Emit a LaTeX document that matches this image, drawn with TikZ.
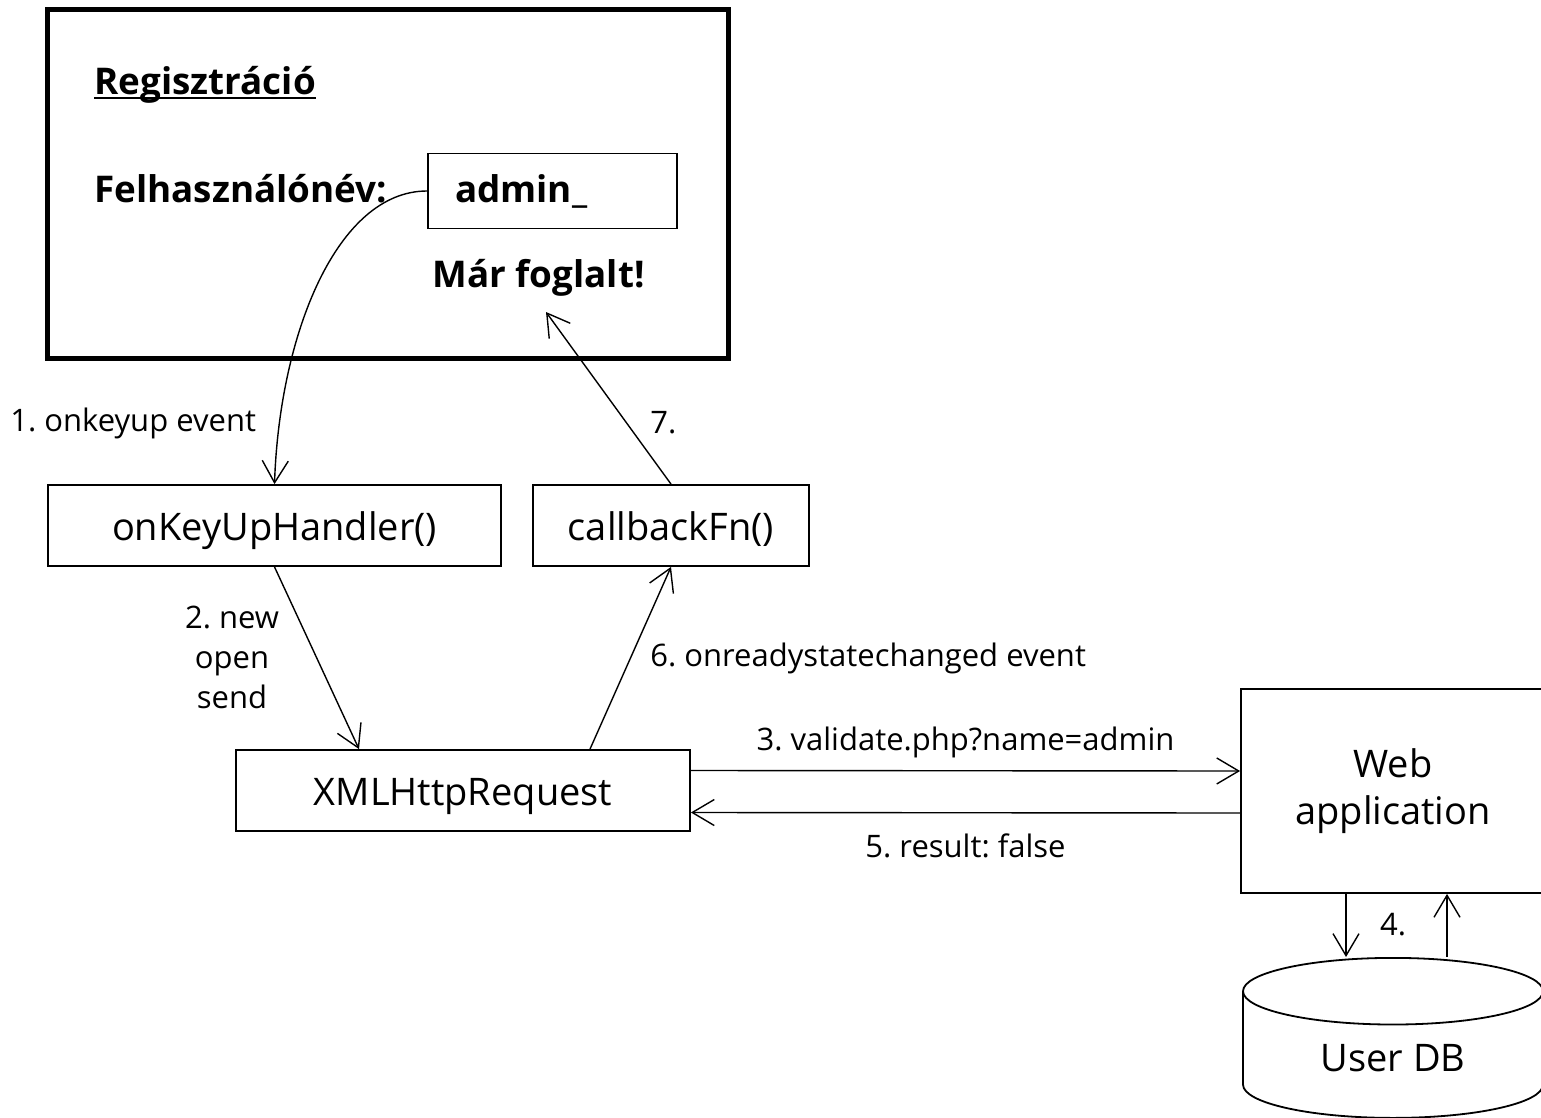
\documentclass[tikz,border=0pt]{standalone}
\usepackage{fontspec}
\setmainfont{Open Sans}
\usetikzlibrary{arrows.meta,shapes.geometric}
\frenchspacing

\begin{document}
\begin{tikzpicture}[x=0.5pt,y=-0.5pt,
  box/.style={draw,line width=0.9pt,inner sep=0pt,font=\fontsize{19}{23.5}\selectfont},
  fnbox/.style={box,minimum height=40.5pt,text height=15pt,text depth=0.5pt},
  lbl/.style={inner sep=0pt,font=\fontsize{15.5}{20}\selectfont},
  form/.style={inner sep=0pt,font=\bfseries\fontsize{18.4}{22}\selectfont},
  arr/.style={line width=0.7pt,-{Straight Barb[length=11pt,width=13pt]}}]

\clip (0,0) rectangle (1541,1118);

% the page with the form
\node[draw,line width=2.5pt,minimum width=340.5pt,minimum height=174pt] (frame) at (387.5,184) {};
\node[form,anchor=base west] (title) at (94,95) {Regisztráció};
\draw[line width=0.8pt] ([yshift=-1.5pt]title.base west) -- ([yshift=-1.5pt]title.base east);
\node[form,anchor=base west] (user) at (94,203) {Felhasználónév:};
\node[box,form,minimum width=124.5pt,minimum height=37.5pt,text width=97.5pt,align=left] (input) at (552.5,191) {admin\_};
\node[form,anchor=base west] (taken) at (432,287) {Már foglalt!};
\coordinate (msg) at (546,312);

% script side
\node[fnbox,minimum width=226.5pt] (onkey) at (274.5,525.5) {onKeyUpHandler()};
\node[fnbox,minimum width=138pt] (callback) at (671,525.5) {callbackFn()};
\node[fnbox,minimum width=227pt] (xhr) at (463,790.5) {XMLHttpRequest};

% server side
\node[box,minimum width=152pt,minimum height=102pt,align=center] (webapp) at (1393,791) {Web\\application};
\node[box,cylinder,shape border rotate=90,aspect=0.46,minimum width=150pt,minimum height=80pt,text height=16pt,text depth=0pt] (userdb) at (1393,1055) {User DB};

\node[lbl,anchor=west] (l1) at (10,423) {1. onkeyup event};
\node[lbl,anchor=west] (l7) at (650,423) {7.};
\node[lbl,align=center] (l2) at (232,657) {2. new\\open\\send};
\node[lbl,anchor=west] (l6) at (650,658) {6. onreadystatechanged event};
\node[lbl] (l4) at (1393,925) {4.};

\draw[arr] (input.west) .. controls +(-90,0) and +(5,-150) .. (onkey.north);
\draw[arr] (onkey.south) -- ([xshift=-52pt]xhr.north);
\draw[arr] ([yshift=10pt]xhr.east) -- node[lbl,above=6pt] (l3) {3. validate.php?name=admin} ([yshift=10pt]webapp.west);
\draw[arr] ([xshift=-23.5pt]webapp.south) -- ([xshift=-23.5pt]webapp.south |- userdb.north);
\draw[arr] ([xshift=27pt]webapp.south |- userdb.north) -- ([xshift=27pt]webapp.south);
\draw[arr] ([yshift=-11pt]webapp.west) -- node[lbl,below=10pt] (l5) {5. result: false} ([yshift=-11pt]xhr.east);
\draw[arr] ([xshift=63.5pt]xhr.north) -- (callback.south);
\draw[arr] (callback.north) -- (msg);
\end{tikzpicture}
\end{document}
